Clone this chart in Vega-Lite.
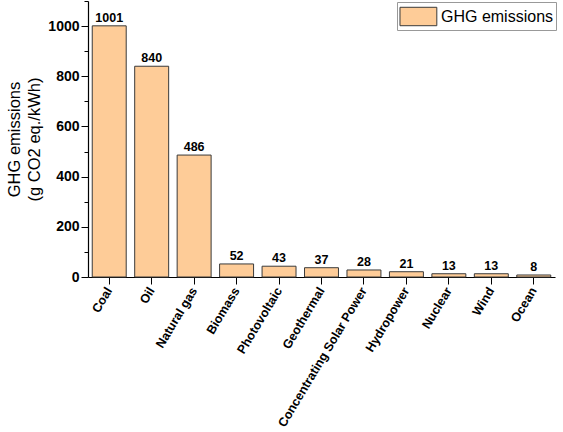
{
  "$schema": "https://vega.github.io/schema/vega-lite/v6.json",
  "width": 467,
  "height": 276,
  "autosize": {"type": "none"},
  "padding": {"left": 88, "top": 1, "right": 8, "bottom": 155},
  "background": "white",
  "data": {
    "values": [
      {"source": "Coal", "ghg": 1001, "series": "GHG emissions"},
      {"source": "Oil", "ghg": 840, "series": "GHG emissions"},
      {"source": "Natural gas", "ghg": 486, "series": "GHG emissions"},
      {"source": "Biomass", "ghg": 52, "series": "GHG emissions"},
      {"source": "Photovoltaic", "ghg": 43, "series": "GHG emissions"},
      {"source": "Geothermal", "ghg": 37, "series": "GHG emissions"},
      {"source": "Concentrating Solar Power", "ghg": 28, "series": "GHG emissions"},
      {"source": "Hydropower", "ghg": 21, "series": "GHG emissions"},
      {"source": "Nuclear", "ghg": 13, "series": "GHG emissions"},
      {"source": "Wind", "ghg": 13, "series": "GHG emissions"},
      {"source": "Ocean", "ghg": 8, "series": "GHG emissions"}
    ]
  },
  "encoding": {
    "x": {
      "field": "source", "type": "nominal", "sort": null, "title": null,
      "scale": {"paddingInner": 0.2, "paddingOuter": 0.1},
      "axis": {
        "labelAngle": -59, "labelFontWeight": "bold", "labelFontSize": 12.5,
        "labelColor": "black", "labelPadding": 4, "tickSize": 7,
        "tickColor": "black", "domainColor": "black", "domainWidth": 1.2
      }
    },
    "y": {
      "field": "ghg", "type": "quantitative",
      "title": ["GHG emissions", "(g CO2 eq./kWh)"],
      "scale": {"domain": [0, 1100], "nice": false},
      "axis": {
        "values": [0, 100, 200, 300, 400, 500, 600, 700, 800, 900, 1000, 1100],
        "format": "d",
        "labelExpr": "datum.value % 200 === 0 && datum.value <= 1000 ? datum.label : ''",
        "tickSize": {"condition": {"test": "datum.value % 200 === 0", "value": 7}, "value": 4},
        "grid": false, "labelFontWeight": "bold", "labelFontSize": 14,
        "labelColor": "black", "tickColor": "black", "domainColor": "black",
        "domainWidth": 1.2, "titleFontWeight": "normal", "titleFontSize": 16.5,
        "titleColor": "black", "titlePadding": 5, "titleLineHeight": 20
      }
    }
  },
  "layer": [
    {
      "mark": {"type": "bar", "stroke": "#3a3a3a", "strokeWidth": 1},
      "encoding": {
        "fill": {
          "field": "series", "type": "nominal",
          "scale": {"range": ["#FECC98"]},
          "legend": {
            "title": null, "orient": "none", "legendX": 309, "legendY": 1,
            "strokeColor": "#999", "padding": 2,
            "symbolType": "M-1,-0.8H2.2V0.8H-1Z", "symbolSize": 530,
            "symbolStrokeColor": "#3a3a3a", "symbolStrokeWidth": 1,
            "labelFontSize": 16, "labelColor": "black", "labelOffset": 17
          }
        }
      }
    },
    {
      "mark": {"type": "text", "baseline": "bottom", "dy": -1, "fontWeight": "bold", "fontSize": 12.5, "color": "black"},
      "encoding": {"text": {"field": "ghg", "type": "quantitative"}}
    }
  ],
  "config": {
    "font": "Liberation Sans",
    "view": {"stroke": null}
  }
}
